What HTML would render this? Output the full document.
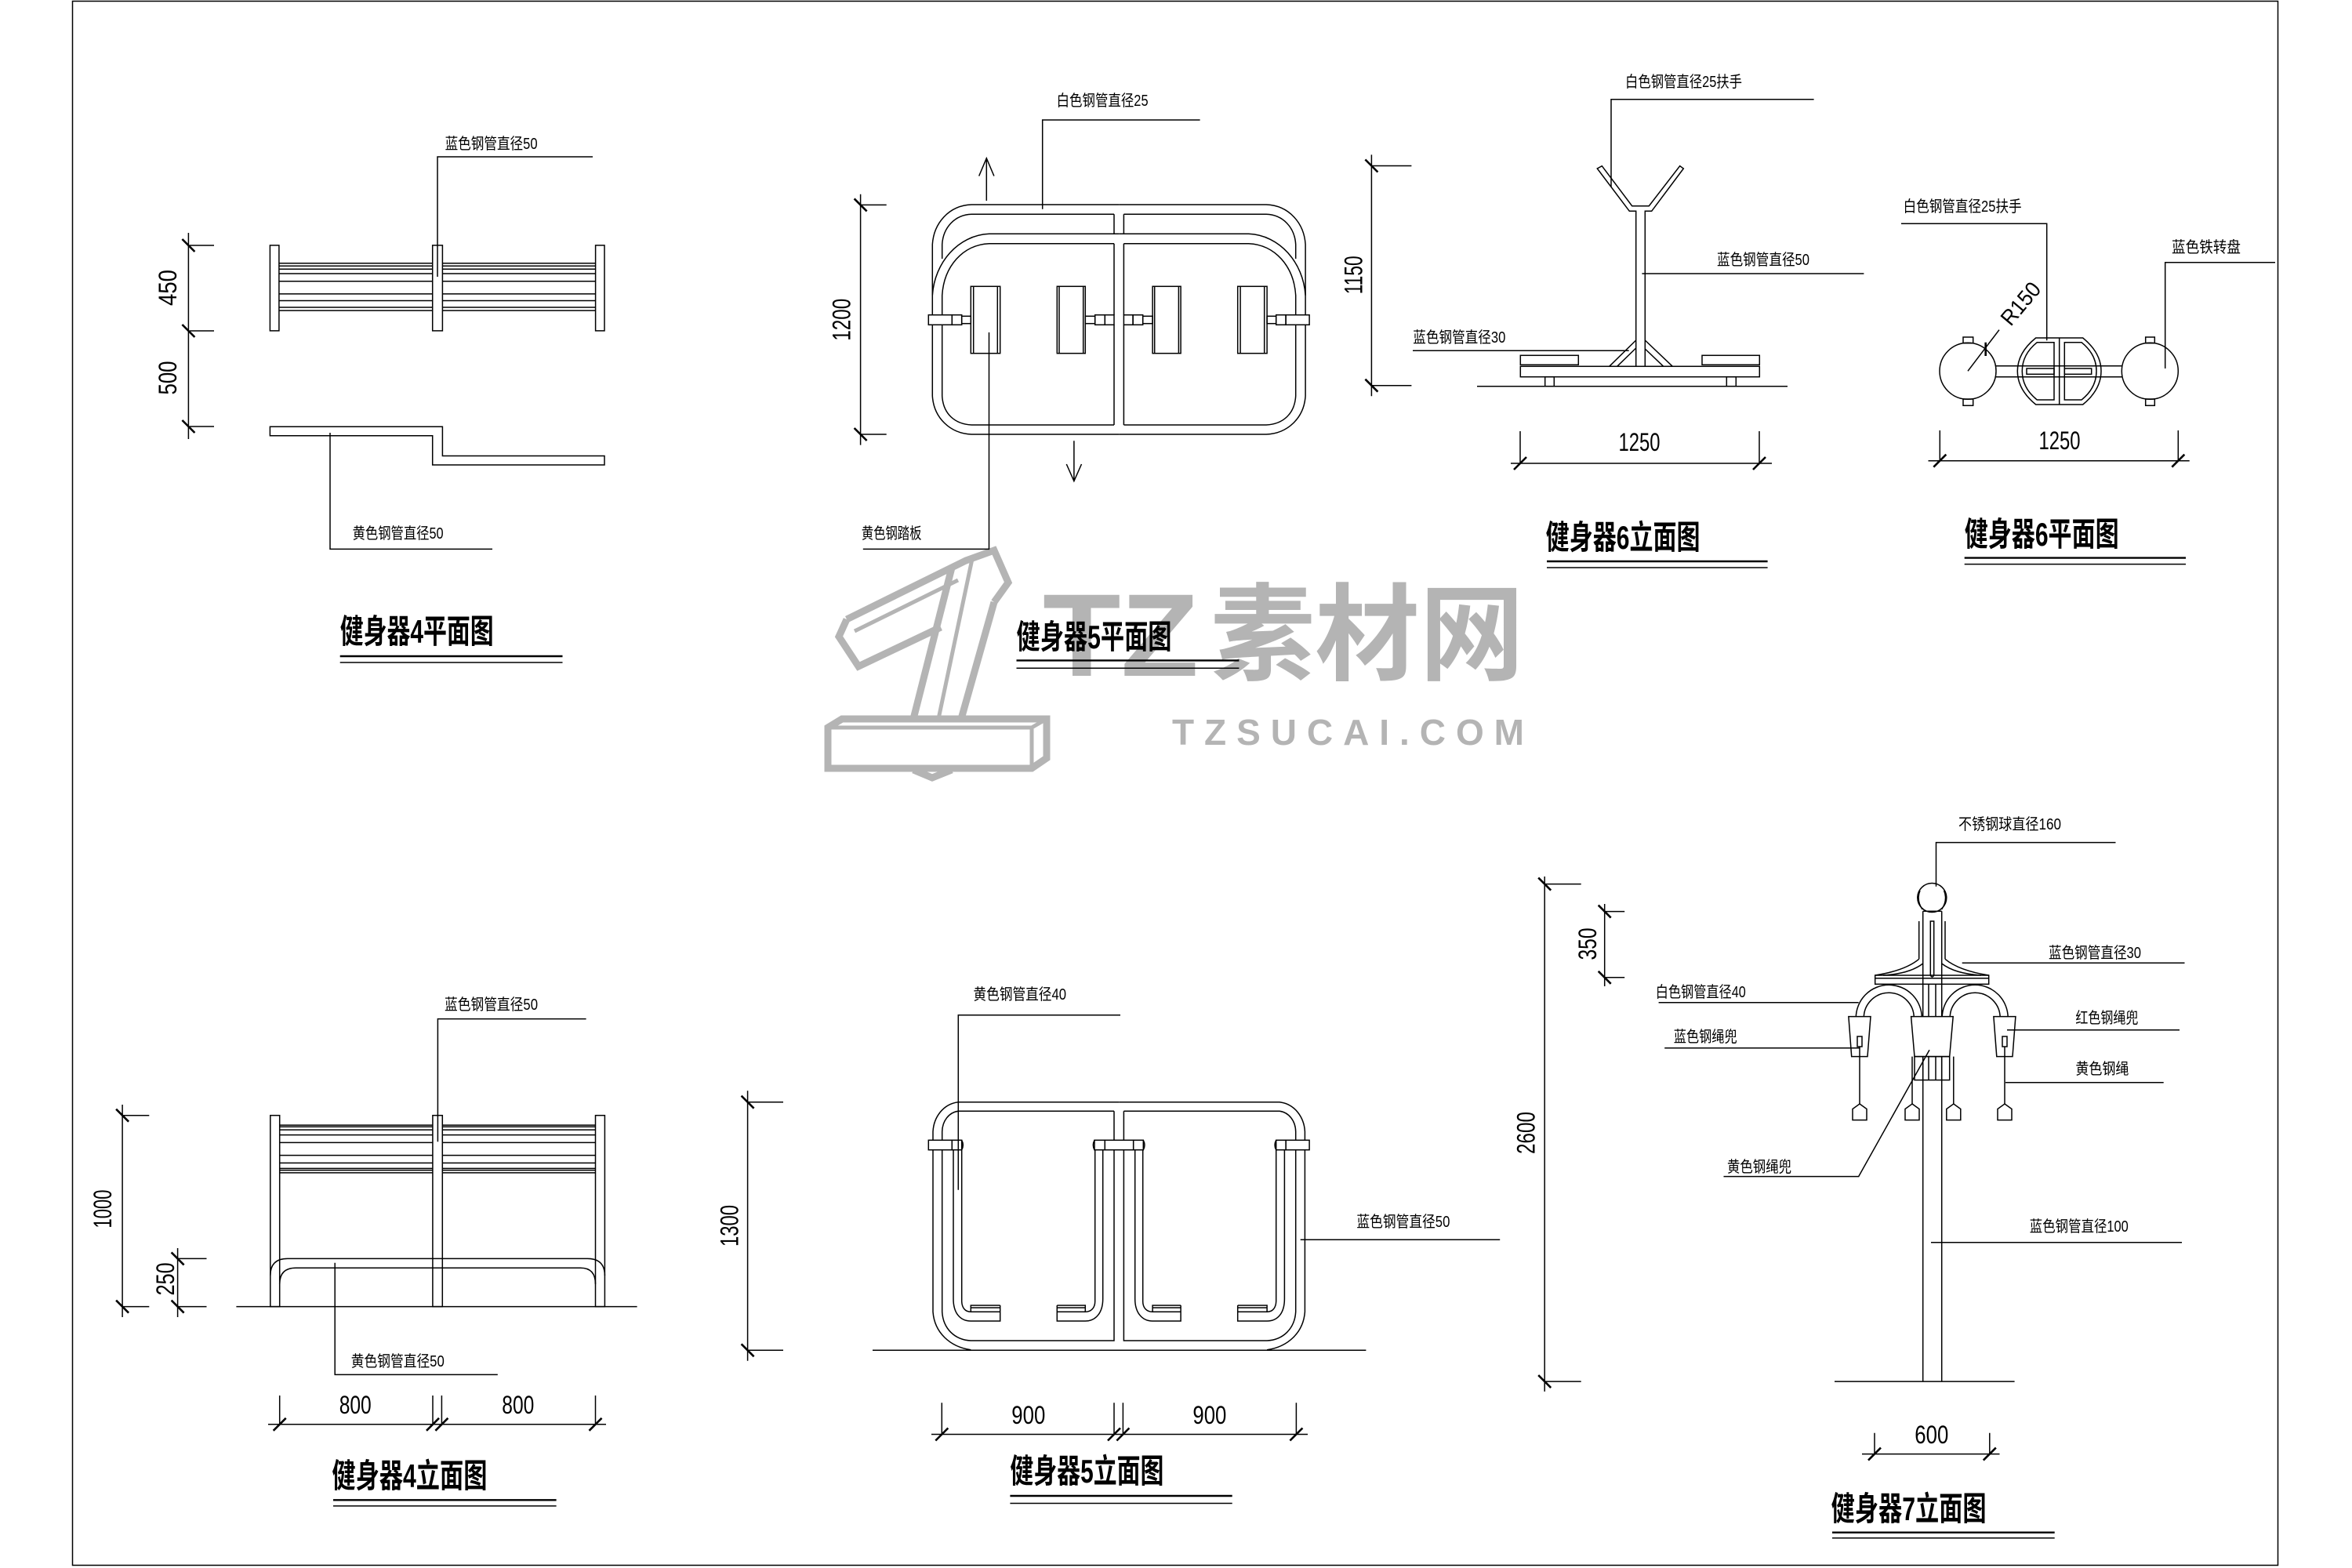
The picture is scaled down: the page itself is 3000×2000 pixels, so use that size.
<!DOCTYPE html>
<html><head><meta charset="utf-8"><style>
html,body{margin:0;padding:0;background:#fff;}
svg{display:block;}
text{font-family:"Liberation Sans","Noto Sans CJK SC",sans-serif;fill:#000;}
.l{font-size:20px;}
.t{font-size:42px;font-weight:bold;}
.d{font-size:32px;}
.s{fill:none;stroke:#000;stroke-width:1.5;}
.k{stroke:#000;stroke-width:2.6;}
.w{fill:#fff;stroke:#000;stroke-width:1.5;}
.wm{fill:none;stroke:#b4b4b4;stroke-width:9;stroke-linejoin:miter;}
</style></head><body>
<svg width="3000" height="2000" viewBox="0 0 3000 2000" xmlns="http://www.w3.org/2000/svg">
<rect x="0" y="0" width="3000" height="2000" fill="#fff"/>
<rect x="92.5" y="1.5" width="2813" height="1995" class="s"/>

<!-- ================= WATERMARK ================= -->
<g>
<path class="wm" d="M1056,928 L1074,917 L1335,917 L1335,967 L1316,980 L1056,980 Z"/>
<path class="wm" d="M1056,928 L1316,928 L1316,980 M1316,928 L1335,917" style="stroke-width:5"/>
<path class="wm" d="M1165,982 L1189,992 L1214,982"/>
<path class="wm" d="M1165,917 L1214,724"/>
<path class="wm" d="M1226,917 L1268,768"/>
<path class="wm" d="M1197,917 L1240,713" style="stroke-width:5"/>
<path class="wm" d="M1080,790 L1232,715 L1268,702 L1286,743 L1268,768"/>
<path class="wm" d="M1080,790 L1070,812 L1095,850 L1200,800"/>
<path class="wm" d="M1090,805 L1222,740" style="stroke-width:5"/>
<text x="1330" y="862" textLength="199" lengthAdjust="spacingAndGlyphs" style="font-size:150px;font-weight:bold;fill:#b4b4b4;">TZ</text>
<text x="1544" y="857" textLength="400" lengthAdjust="spacingAndGlyphs" style="font-family:'Noto Sans CJK SC',sans-serif;font-size:135px;font-weight:bold;fill:#b4b4b4;">素材网</text>
<text x="1495" y="950" textLength="449" lengthAdjust="spacing" style="font-size:46px;font-weight:bold;fill:#b4b4b4;">TZSUCAI.COM</text>
</g>

<!-- ================= 健身器4平面图 ================= -->
<g class="s">
<rect x="344.4" y="312.9" width="11.5" height="109"/>
<rect x="551.7" y="312.9" width="12.7" height="109"/>
<rect x="759.6" y="312.9" width="11.4" height="109"/>
<path d="M355.9,335.8H551.7M355.9,339.3H551.7M355.9,343.3H551.7M355.9,349H551.7M355.9,358.8H551.7M355.9,374.9H551.7M355.9,383.5H551.7M355.9,392H551.7M355.9,396.1H551.7"/>
<path d="M564.4,335.8H759.6M564.4,339.3H759.6M564.4,343.3H759.6M564.4,349H759.6M564.4,358.8H759.6M564.4,374.9H759.6M564.4,383.5H759.6M564.4,392H759.6M564.4,396.1H759.6"/>
<polyline points="558,353 558,200 756,200"/>
<path d="M240.4,297V560M242,313H273M242,422H273M242,544H273"/>
<polygon points="344.4,544.2 564.4,544.2 564.4,581.5 771,581.5 771,593 551.7,593 551.7,555.7 344.4,555.7"/>
<polyline points="421,552 421,700.4 628,700.4"/>
<path d="M433.7,837H717.5" style="stroke-width:2.4"/>
<path d="M433.7,845H717.5"/>
</g>
<path class="k" d="M232.4,305L248.4,321M232.4,414L248.4,430M232.4,536L248.4,552"/>
<text class="l" x="567.6" y="190" textLength="118" lengthAdjust="spacingAndGlyphs">蓝色钢管直径50</text>
<text class="l" x="449.6" y="687" textLength="116" lengthAdjust="spacingAndGlyphs">黄色钢管直径50</text>
<text class="d" transform="translate(213.6,367) rotate(-90)" y="11.5" text-anchor="middle" textLength="46" lengthAdjust="spacingAndGlyphs">450</text>
<text class="d" transform="translate(213.6,482) rotate(-90)" y="11.5" text-anchor="middle" textLength="43" lengthAdjust="spacingAndGlyphs">500</text>
<text class="t" x="433.7" y="820" textLength="196" lengthAdjust="spacingAndGlyphs">健身器4平面图</text>

<!-- ================= 健身器5平面图 ================= -->
<g class="s" id="p5L">
<path d="M1427.2,261 L1239.3,261 C1210,262 1191,285 1189.3,311.7 L1189.3,505 C1191,533 1212,553 1239.3,554 L1427.2,554"/>
<path d="M1421,273.3 L1239.3,273.3 C1218,274 1203,290 1201.7,311.7 L1201.7,330"/>
<path d="M1427.2,298.3 L1261.7,298.3 C1222,300 1192,335 1189.3,376.7"/>
<path d="M1421,310.7 L1261.7,310.7 C1228,312 1204,340 1201.7,376.7 L1201.7,505 C1203,528 1218,541 1239.3,542 L1421,542"/>
<path d="M1421,273.3 L1421,298.3 M1421,310.7 L1421,401.7 M1421,414.3 L1421,542"/>
<rect x="1238.3" y="365.3" width="37.4" height="85.4"/>
<path d="M1241.7,365.3V450.7M1272.3,365.3V450.7"/>
<rect x="1348.3" y="365.3" width="36" height="85.4"/>
<path d="M1351,365.3V450.7M1381.7,365.3V450.7"/>
<rect x="1184.3" y="401.7" width="30" height="12.6" fill="#fff"/>
<rect x="1214.3" y="401.7" width="12.4" height="12.6"/>
<rect x="1226.7" y="403.3" width="11.6" height="9.4"/>
<rect x="1384.3" y="403.3" width="12.4" height="9.4"/>
<rect x="1396.7" y="401.7" width="12.6" height="12.6"/>
<rect x="1409.3" y="401.7" width="11.7" height="12.6"/>
</g>
<use href="#p5L" transform="translate(2854.4,0) scale(-1,1)"/>
<g class="s">
<polyline points="1261.5,424 1261.5,700.4 1100.8,700.4"/>
<polyline points="1329.7,266.8 1329.7,153 1530.6,153"/>
<path d="M1258.3,256V201.8M1248.7,224.5L1258.3,201.8L1267.9,224.5"/>
<path d="M1369.9,562.2V613.7M1360.3,592L1369.9,613.7L1379.5,592"/>
<path d="M1097.6,247.8V567.6M1097.6,261.4H1130.7M1097.6,554H1130.7"/>
<path d="M1296.5,842.4H1580.4" style="stroke-width:2.4"/>
<path d="M1296.5,852.2H1580.4"/>
</g>
<path class="k" d="M1089.6,253.4L1105.6,269.4M1089.6,546L1105.6,562"/>
<text class="l" x="1347.6" y="135" textLength="117" lengthAdjust="spacingAndGlyphs">白色钢管直径25</text>
<text class="l" x="1098.9" y="687" textLength="76.5" lengthAdjust="spacingAndGlyphs">黄色钢踏板</text>
<text class="d" transform="translate(1073,407.7) rotate(-90)" y="11.5" text-anchor="middle" textLength="54" lengthAdjust="spacingAndGlyphs">1200</text>
<text class="t" x="1296.5" y="827" textLength="198" lengthAdjust="spacingAndGlyphs">健身器5平面图</text>

<!-- ================= 健身器6立面图 ================= -->
<g class="s">
<path d="M1749.4,197.4V505.3M1749.4,211.5H1800.4M1749.4,491.7H1800.4"/>
<path d="M1884,492.7H2280"/>
<rect x="1939.3" y="467.3" width="305" height="13.4"/>
<rect x="1939.3" y="453.3" width="74" height="12"/>
<rect x="2171" y="453.3" width="73.3" height="12"/>
<rect x="1970.7" y="480.7" width="11.6" height="12"/>
<rect x="2202.3" y="480.7" width="12" height="12"/>
<path d="M2086.7,467.3 L2086.7,269.3 L2078.3,269.3 L2037.3,215 L2043.3,211.7 L2081.7,262.7 L2103.3,262.7 L2142.7,211.7 L2147.3,215 L2106.7,269.3 L2098.3,269.3 L2098.3,467.3"/>
<path d="M2086.7,434L2052.7,467.3M2086.7,444L2062.7,467.3M2098.3,434L2133.3,467.3M2098.3,445L2121.7,467.3"/>
<polyline points="2055,238.3 2055,126.8 2313.6,126.8"/>
<path d="M2094.4,349H2377.4"/>
<path d="M1802,447.3H2077.7"/>
<path d="M1927,591H2260M1939,550V591M2244,550V591"/>
<path d="M1973,716H2254.6" style="stroke-width:2.4"/>
<path d="M1973,724H2254.6"/>
</g>
<path class="k" d="M1741.4,203.5L1757.4,219.5M1741.4,483.7L1757.4,499.7M1931,599L1947,583M2236,599L2252,583"/>
<text class="l" x="2073" y="111" textLength="149" lengthAdjust="spacingAndGlyphs">白色钢管直径25扶手</text>
<text class="l" x="2190" y="338" textLength="118" lengthAdjust="spacingAndGlyphs">蓝色钢管直径50</text>
<text class="l" x="1802.3" y="437" textLength="118" lengthAdjust="spacingAndGlyphs">蓝色钢管直径30</text>
<text class="d" transform="translate(1725.8,350.8) rotate(-90)" y="11.5" text-anchor="middle" textLength="49" lengthAdjust="spacingAndGlyphs">1150</text>
<text class="d" x="2091" y="575" text-anchor="middle" textLength="53" lengthAdjust="spacingAndGlyphs">1250</text>
<text class="t" x="1971.6" y="700" textLength="197" lengthAdjust="spacingAndGlyphs">健身器6立面图</text>

<!-- ================= 健身器6平面图 ================= -->
<g class="s">
<circle cx="2510" cy="473.3" r="36"/>
<circle cx="2742.3" cy="473.3" r="36"/>
<rect x="2504" y="430" width="12.7" height="7.7"/>
<rect x="2504" y="509" width="12.7" height="8.3"/>
<rect x="2736.7" y="430" width="11.6" height="7.7"/>
<rect x="2736.7" y="509" width="11.6" height="8.3"/>
<path d="M2546,466.7H2573.3M2546,480.7H2573.3M2680,466.7H2706.7M2680,480.7H2706.7"/>
<path d="M2596.7,431 L2656.7,431 Q2680,450 2680,473.3 Q2680,497 2656.7,516 L2596.7,516 Q2573.3,497 2573.3,473.3 Q2573.3,450 2596.7,431 Z"/>
<path d="M2598.3,436.7 L2620,436.7 L2620,510 L2598.3,510 Q2579.3,495 2579.3,473.3 Q2579.3,452 2598.3,436.7 Z"/>
<path d="M2655,436.7 L2633.3,436.7 L2633.3,510 L2655,510 Q2674,495 2674,473.3 Q2674,452 2655,436.7 Z"/>
<path d="M2626.7,431V516M2573.3,466.7H2680M2573.3,480.7H2680"/>
<rect x="2585" y="470" width="35" height="7.3"/>
<rect x="2633.3" y="470" width="34.4" height="7.3"/>
<path d="M2510,473.3L2550,420.7"/>
<polyline points="2610.7,434.3 2610.7,285.3 2425,285.3"/>
<polyline points="2761.7,470 2761.7,334.8 2902,334.8"/>
<path d="M2459.5,587.7H2792.7M2474.3,549V587.7M2778.3,549V587.7"/>
<path d="M2505.7,711.6H2788" style="stroke-width:2.4"/>
<path d="M2505.7,719.6H2788"/>
</g>
<path class="k" d="M2532.7,436.7V454M2466.3,595.7L2482.3,579.7M2770.3,595.7L2786.3,579.7"/>
<text style="font-size:28px" transform="translate(2577,387) rotate(-50)" y="10" text-anchor="middle" textLength="62" lengthAdjust="spacingAndGlyphs">R150</text>
<text class="l" x="2427.6" y="270" textLength="151" lengthAdjust="spacingAndGlyphs">白色钢管直径25扶手</text>
<text class="l" x="2770" y="322" textLength="88" lengthAdjust="spacingAndGlyphs">蓝色铁转盘</text>
<text class="d" x="2627" y="573" text-anchor="middle" textLength="53" lengthAdjust="spacingAndGlyphs">1250</text>
<text class="t" x="2505.7" y="696" textLength="197" lengthAdjust="spacingAndGlyphs">健身器6平面图</text>

<!-- ================= 健身器4立面图 ================= -->
<g class="s">
<rect x="344.8" y="1422.7" width="11.9" height="243.9"/>
<rect x="551.9" y="1422.7" width="12.4" height="243.9"/>
<rect x="759.5" y="1422.7" width="11.9" height="243.9"/>
<path d="M356.7,1435.1H551.9M356.7,1437.3H551.9M356.7,1441.1H551.9M356.7,1447.6H551.9M356.7,1457.4H551.9M356.7,1473.6H551.9M356.7,1483.4H551.9M356.7,1490.4H551.9M356.7,1492.6H551.9M356.7,1495.9H551.9"/>
<path d="M564.3,1435.1H759.5M564.3,1437.3H759.5M564.3,1441.1H759.5M564.3,1447.6H759.5M564.3,1457.4H759.5M564.3,1473.6H759.5M564.3,1483.4H759.5M564.3,1490.4H759.5M564.3,1492.6H759.5M564.3,1495.9H759.5"/>
<path d="M344.8,1627 Q344.8,1605.4 366.8,1605.4 L749.4,1605.4 Q771.4,1605.4 771.4,1627"/>
<path d="M356.7,1637.9 Q356.7,1617.3 377.3,1617.3 L740.5,1617.3 Q759.5,1617.3 759.5,1637.9"/>
<path d="M301.4,1666.6H812.6"/>
<polyline points="558.4,1456.3 558.4,1299.6 747.6,1299.6"/>
<polyline points="427.2,1610.8 427.2,1753.4 634.8,1753.4"/>
<path d="M156.1,1409V1680M156.1,1422.7H190.3M156.1,1666.6H190.3"/>
<path d="M226.6,1592V1680M226.6,1605.4H263.5M226.6,1666.6H263.5"/>
<path d="M342,1816.8H773M356.7,1780V1816.8M552,1780V1816.8M563.4,1780V1816.8M759.5,1780V1816.8"/>
<path d="M425,1913.3H709.6" style="stroke-width:2.4"/>
<path d="M425,1920.9H709.6"/>
</g>
<path class="k" d="M148.1,1414.7L164.1,1430.7M148.1,1658.6L164.1,1674.6M218.6,1597.4L234.6,1613.4M218.6,1658.6L234.6,1674.6M348.7,1824.8L364.7,1808.8M544,1824.8L560,1808.8M555.4,1824.8L571.4,1808.8M751.5,1824.8L767.5,1808.8"/>
<text class="l" x="567" y="1288" textLength="119" lengthAdjust="spacingAndGlyphs">蓝色钢管直径50</text>
<text class="l" x="447.8" y="1743" textLength="119" lengthAdjust="spacingAndGlyphs">黄色钢管直径50</text>
<text class="d" transform="translate(130.7,1542) rotate(-90)" y="11.5" text-anchor="middle" textLength="49" lengthAdjust="spacingAndGlyphs">1000</text>
<text class="d" transform="translate(210.3,1631.4) rotate(-90)" y="11.5" text-anchor="middle" textLength="42" lengthAdjust="spacingAndGlyphs">250</text>
<text class="d" x="453.2" y="1803" text-anchor="middle" textLength="41" lengthAdjust="spacingAndGlyphs">800</text>
<text class="d" x="660.8" y="1803" text-anchor="middle" textLength="41" lengthAdjust="spacingAndGlyphs">800</text>
<text class="t" x="423.4" y="1897" textLength="198" lengthAdjust="spacingAndGlyphs">健身器4立面图</text>

<!-- ================= 健身器5立面图 ================= -->
<g class="s" id="p5E">
<path d="M1427.2,1405.7 L1222.3,1405.7 C1203,1408 1191,1425 1190,1443.3 L1190,1673.3 C1192,1700 1212,1718 1238.3,1721.7"/>
<path d="M1421,1417.3 L1222.3,1417.3 C1210,1419 1202,1430 1201.7,1443.3 L1201.7,1673.3 C1203,1695 1218,1709 1238.3,1710 L1421,1710 L1421,1417.3"/>
<path d="M1216,1466.7 L1216,1656.7 C1216,1674 1224,1685 1238.3,1685 L1275.7,1685 L1275.7,1665"/>
<path d="M1226.7,1466.7 L1226.7,1660 C1227,1668 1231,1673.3 1238.3,1673.3 L1275.7,1673.3"/>
<path d="M1238.3,1673.3 L1238.3,1665 L1275.7,1665 M1238.3,1668 L1275.7,1668"/>
<path d="M1406.7,1466.7 L1406.7,1656.7 C1406.7,1674 1398,1685 1384.3,1685 L1348.3,1685 L1348.3,1665"/>
<path d="M1396.7,1466.7 L1396.7,1660 C1396.7,1668 1392,1673.3 1384.3,1673.3 L1348.3,1673.3"/>
<path d="M1384.3,1673.3 L1384.3,1665 L1348.3,1665 M1348.3,1668 L1384.3,1668"/>
<rect x="1184.3" y="1454.3" width="30" height="12.4" fill="#fff"/>
<rect x="1214.3" y="1454.3" width="12.4" height="12.4" fill="#fff"/>
<path d="M1226.7,1454.3 Q1230,1460.5 1226.7,1466.7"/>
</g>
<use href="#p5E" transform="translate(2854.4,0) scale(-1,1)"/>
<g class="s">
<rect x="1396" y="1454.3" width="13.3" height="12.4" fill="#fff"/>
<rect x="1409.3" y="1454.3" width="36.4" height="12.4" fill="#fff"/>
<rect x="1445.7" y="1454.3" width="12.6" height="12.4" fill="#fff"/>
<path d="M1396,1454.3 Q1392.7,1460.5 1396,1466.7 M1458.3,1454.3 Q1461.6,1460.5 1458.3,1466.7"/>
<path d="M1113,1722.3H1742.4"/>
<path d="M953.6,1391.3V1735.7M953.6,1405.7H999M953.6,1722.3H999"/>
<polyline points="1222.3,1517.7 1222.3,1294.7 1429,1294.7"/>
<path d="M1658.7,1581.2H1913.2"/>
<path d="M1188,1829.5H1668M1201.3,1789.3V1829.5M1421,1789.3V1829.5M1432.4,1789.3V1829.5M1653.4,1789.3V1829.5"/>
<path d="M1288.4,1908H1571.7" style="stroke-width:2.4"/>
<path d="M1288.4,1917.5H1571.7"/>
</g>
<path class="k" d="M945.6,1397.7L961.6,1413.7M945.6,1714.3L961.6,1730.3M1193.3,1837.5L1209.3,1821.5M1413,1837.5L1429,1821.5M1424.4,1837.5L1440.4,1821.5M1645.4,1837.5L1661.4,1821.5"/>
<text class="l" x="1241.5" y="1275" textLength="118.5" lengthAdjust="spacingAndGlyphs">黄色钢管直径40</text>
<text class="l" x="1730.4" y="1565" textLength="119" lengthAdjust="spacingAndGlyphs">蓝色钢管直径50</text>
<text class="d" transform="translate(930,1563.5) rotate(-90)" y="11.5" text-anchor="middle" textLength="53" lengthAdjust="spacingAndGlyphs">1300</text>
<text class="d" x="1311.8" y="1816" text-anchor="middle" textLength="43" lengthAdjust="spacingAndGlyphs">900</text>
<text class="d" x="1542.9" y="1816" text-anchor="middle" textLength="43" lengthAdjust="spacingAndGlyphs">900</text>
<text class="t" x="1288.4" y="1891" textLength="196" lengthAdjust="spacingAndGlyphs">健身器5立面图</text>

<!-- ================= 健身器7立面图 ================= -->
<g class="s">
<path d="M1970.2,1118V1774.9M1970.2,1127.6H2016.7M1970.2,1762.1H2016.7"/>
<path d="M2046.7,1153V1258M2046.7,1162.6H2072.2M2046.7,1246.8H2072.2"/>
<path d="M2340,1762.1H2569.6"/>
<path d="M2452.7,1162.3V1762.1M2476.7,1162.3V1762.1M2452.7,1162.3H2476.7"/>
<path d="M2460,1255.3V1298.3M2469,1255.3V1298.3"/>
<circle cx="2464.3" cy="1145" r="18.5"/>
<path d="M2449,1136 Q2444,1148 2452,1160 M2479.6,1136 Q2484.6,1148 2476.6,1160"/>
<path d="M2447.7,1175V1223.3M2481,1175V1223.3"/>
<path d="M2462.3,1175 L2462.3,1244 Q2464.5,1248 2466.7,1244 L2466.7,1175 Z"/>
<path d="M2447.7,1223.3 Q2430,1238 2391.7,1244 M2452.7,1229 Q2436,1242 2402,1244"/>
<path d="M2481,1223.3 Q2498.7,1238 2536.7,1244 M2476.7,1229 Q2493.4,1242 2527,1244"/>
<rect x="2391.7" y="1244" width="145" height="11.3"/>
<path d="M2391.7,1247.7H2536.7"/>
<path d="M2367.3,1298.3 A42,42 0 0 1 2451.3,1298.3 M2377.3,1298.3 A32,32 0 0 1 2441.3,1298.3"/>
<path d="M2477.2,1298.3 A42,42 0 0 1 2561.2,1298.3 M2487.2,1298.3 A32,32 0 0 1 2551.2,1298.3"/>
<polygon points="2357.9,1296.6 2386,1296.6 2382,1347.6 2361.7,1347.6" fill="#fff"/>
<polygon points="2437.6,1296.6 2491.2,1296.6 2486.7,1347.6 2442,1347.6" fill="#fff"/>
<polygon points="2542.9,1296.6 2570.9,1296.6 2567,1347.6 2546.8,1347.6" fill="#fff"/>
<rect x="2442" y="1347.6" width="44.7" height="30"/>
<path d="M2452.7,1347.6V1377.6M2460,1347.6V1377.6M2469,1347.6V1377.6M2476.7,1347.6V1377.6"/>
<rect x="2369" y="1322" width="6" height="13"/>
<rect x="2554" y="1322" width="6" height="13"/>
<path d="M2372,1335V1408M2557,1335V1408M2439,1347.6V1408M2491.8,1347.6V1408"/>
<polygon points="2372,1408 2381,1414.5 2381,1428.6 2363,1428.6 2363,1414.5"/>
<polygon points="2439,1408 2448,1414.5 2448,1428.6 2430,1428.6 2430,1414.5"/>
<polygon points="2491.8,1408 2500.8,1414.5 2500.8,1428.6 2482.8,1428.6 2482.8,1414.5"/>
<polygon points="2557,1408 2566,1414.5 2566,1428.6 2548,1428.6 2548,1414.5"/>
<polyline points="2469.5,1130.7 2469.5,1074.6 2698.5,1074.6"/>
<path d="M2502.7,1228.3H2786.5"/>
<path d="M2115.6,1278.7H2370.7"/>
<path d="M2123.2,1336.7H2372"/>
<path d="M2560,1313.8H2780"/>
<path d="M2558,1380.7H2759.7"/>
<polyline points="2461,1339.3 2370.7,1500.6 2198.5,1500.6"/>
<path d="M2463,1584.8H2783"/>
<path d="M2375,1854.6H2550.5M2391,1827.8V1854.6M2537.8,1827.8V1854.6"/>
<path d="M2337,1954.7H2620.7" style="stroke-width:2.4"/>
<path d="M2337,1961.7H2620.7"/>
</g>
<path class="k" d="M1962.2,1119.6L1978.2,1135.6M1962.2,1754.1L1978.2,1770.1M2038.7,1154.6L2054.7,1170.6M2038.7,1238.8L2054.7,1254.8M2383,1862.6L2399,1846.6M2529.8,1862.6L2545.8,1846.6"/>
<text class="l" x="2498" y="1058" textLength="131" lengthAdjust="spacingAndGlyphs">不锈钢球直径160</text>
<text class="l" x="2613" y="1222" textLength="118" lengthAdjust="spacingAndGlyphs">蓝色钢管直径30</text>
<text class="l" x="2111.7" y="1272" textLength="115" lengthAdjust="spacingAndGlyphs">白色钢管直径40</text>
<text class="l" x="2134.7" y="1329" textLength="81" lengthAdjust="spacingAndGlyphs">蓝色钢绳兜</text>
<text class="l" x="2647.4" y="1305" textLength="80" lengthAdjust="spacingAndGlyphs">红色钢绳兜</text>
<text class="l" x="2647.4" y="1370" textLength="68" lengthAdjust="spacingAndGlyphs">黄色钢绳</text>
<text class="l" x="2203" y="1495" textLength="82" lengthAdjust="spacingAndGlyphs">黄色钢绳兜</text>
<text class="l" x="2588.8" y="1571" textLength="126" lengthAdjust="spacingAndGlyphs">蓝色钢管直径100</text>
<text class="d" transform="translate(1946,1445) rotate(-90)" y="11.5" text-anchor="middle" textLength="54" lengthAdjust="spacingAndGlyphs">2600</text>
<text class="d" transform="translate(2024.4,1204) rotate(-90)" y="11.5" text-anchor="middle" textLength="41" lengthAdjust="spacingAndGlyphs">350</text>
<text class="d" x="2463.8" y="1841" text-anchor="middle" textLength="43" lengthAdjust="spacingAndGlyphs">600</text>
<text class="t" x="2335.6" y="1939" textLength="198" lengthAdjust="spacingAndGlyphs">健身器7立面图</text>
</svg>
</body></html>
